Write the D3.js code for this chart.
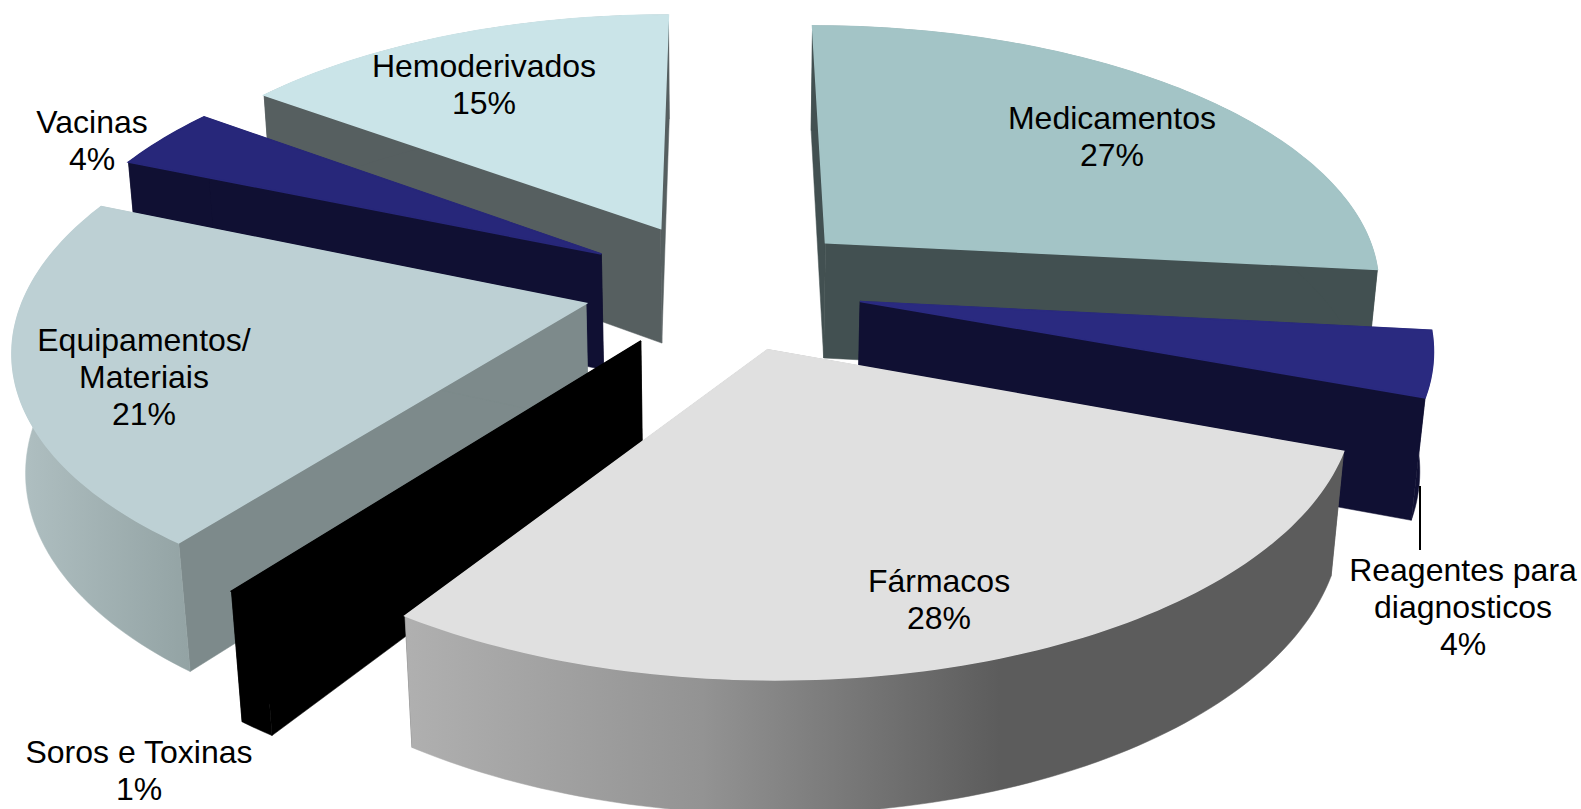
<!DOCTYPE html>
<html>
<head>
<meta charset="utf-8">
<script src="https://cdn.jsdelivr.net/npm/d3@7"></script>
<style>
  html, body { margin: 0; padding: 0; background: #fff; overflow: hidden; }
  text { font-family: "Liberation Sans", Arial, sans-serif; font-size: 32px; fill: #000; }
</style>
</head>
<body>
<script>
// data, clockwise from 12 o'clock
var categories = ['Medicamentos', 'Reagentes para diagnosticos', 'Fármacos', 'Soros e Toxinas', 'Equipamentos/ Materiais', 'Vacinas', 'Hemoderivados'];
var values = [27, 4, 28, 1, 21, 4, 15];
var labelLines = [['Medicamentos'], ['Reagentes para', 'diagnosticos'], ['Fármacos'], ['Soros e Toxinas'], ['Equipamentos/', 'Materiais'], ['Vacinas'], ['Hemoderivados']];

// look of each slice
var topColors = ['#a3c4c6', '#2a2a80', '#e0e0e0', '#000000', '#bdd0d4', '#27277a', '#cae4e8'];
var wallColors = ['#425051', '#101033', '#5c5c5c', '#000000', '#7d8a8b', '#101033', '#565f60'];
var rimColors = ['#425051', '#101033', 'url(#rimFarmacos)', '#000000', 'url(#rimEquip)', '#101033', '#565f60'];
var drawOrder = [6, 0, 5, 4, 1, 3, 2];
var labelX = [1112, 1463, 939, 139, 144, 92, 484];
var labelY = [118, 570, 581, 752, 340, 122, 66];
// the original's 3d renderer is not a true camera, small angle corrections (radians) at each slice boundary
var boundaryNudge = [0, -0.019, -0.025, 0.025, 0.025, 0.019, 0.006, 0];

var width = 1581, height = 809;
var svg = d3.select('body').append('svg')
  .attr('width', width)
  .attr('height', height);

var defs = svg.append('defs');
function gradient(id, x1, x2, stops) {
  var g = defs.append('linearGradient').attr('id', id)
    .attr('gradientUnits', 'userSpaceOnUse')
    .attr('x1', x1).attr('x2', x2).attr('y1', 0).attr('y2', 0);
  stops.forEach(s => g.append('stop').attr('offset', s[0]).attr('stop-color', s[1]));
}
gradient('rimFarmacos', 404, 1000, [[0, '#b0b0b0'], [0.5, '#939393'], [1, '#5c5c5c']]);
gradient('rimEquip', 15, 190, [[0, '#b0c0c2'], [1, '#93a3a4']]);

// camera: disc of radius 1 lying flat, seen from above
var cx = 722.5, cy = 285, tilt = 0.485, dist = 6, focal = 3350;
var thickness = 0.242, explode = 0.252;

function project(x, y, z) {
  var sy = y * Math.sin(tilt) - z * Math.cos(tilt);
  var d = dist - (y * Math.cos(tilt) + z * Math.sin(tilt));
  return [cx + focal * x / d, cy + focal * sy / d];
}

var pie = d3.pie().sort(null).value(d => d)(values);
var line = d3.line();

var slices = pie.map((p, i) => {
  var start = p.startAngle + boundaryNudge[i], end = p.endAngle + boundaryNudge[i + 1];
  var mid = (p.startAngle + p.endAngle) / 2;
  var ox = explode * Math.sin(mid), oy = -explode * Math.cos(mid);
  var steps = d3.range(start, end, 0.02).concat(end);
  return {
    i: i,
    at: (a, r, z) => project(ox + r * Math.sin(a), oy - r * Math.cos(a), z),
    center: z => project(ox, oy, z),
    steps: steps,
    start: start,
    end: end
  };
});

var g = svg.selectAll('g.slice')
  .data(drawOrder.map(i => slices[i]))
  .join('g')
    .attr('class', 'slice');

function wallPath(s, a) {
  return line([s.center(0), s.at(a, 1, 0), s.at(a, 1, -thickness), s.center(-thickness)]) + 'Z';
}
function rimPath(s) {
  var upper = s.steps.map(a => s.at(a, 1, 0));
  var lower = s.steps.slice().reverse().map(a => s.at(a, 1, -thickness));
  return line(upper.concat(lower)) + 'Z';
}
function topPath(s) {
  return line([s.center(0)].concat(s.steps.map(a => s.at(a, 1, 0)))) + 'Z';
}

// thin stroke of the same colour hides the seams between faces
function face(d, color, sw) {
  g.append('path').attr('d', d).attr('fill', color).attr('stroke', color).attr('stroke-width', sw);
}
face(s => wallPath(s, s.start), s => wallColors[s.i], 0.5);
face(s => wallPath(s, s.end), s => wallColors[s.i], 0.5);
face(rimPath, s => rimColors[s.i], 0.5);
face(topPath, s => topColors[s.i], 1.6);

// leader line for the small slice
svg.append('line')
  .attr('x1', 1420).attr('x2', 1420)
  .attr('y1', 486).attr('y2', 550)
  .attr('stroke', '#000').attr('stroke-width', 2);

// labels: name lines then the percent
var lineStep = 37;
var labels = svg.selectAll('text.label')
  .data(categories)
  .join('text')
    .attr('class', 'label')
    .attr('text-anchor', 'middle')
    .attr('x', (d, i) => labelX[i])
    .attr('y', (d, i) => labelY[i] + 11);

labels.selectAll('tspan')
  .data((d, i) => labelLines[i].concat(values[i] + '%').map(t => ({t: t, x: labelX[i]})))
  .join('tspan')
    .attr('x', d => d.x)
    .attr('dy', (d, j) => j ? lineStep : 0)
    .text(d => d.t);
</script>
</body>
</html>
